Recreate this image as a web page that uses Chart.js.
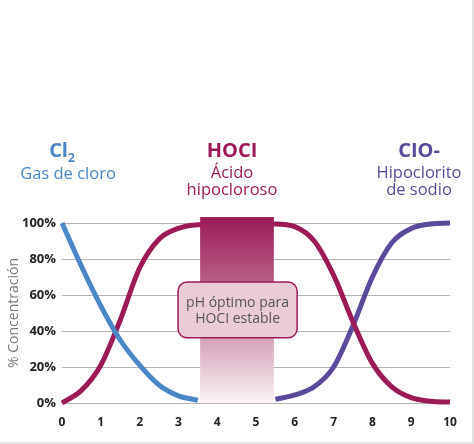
<!DOCTYPE html>
<html lang="es">
<head>
<meta charset="UTF-8">
<title>Concentración según pH</title>
<script src="https://cdn.jsdelivr.net/npm/chart.js"></script>
<style>
  html, body { margin: 0; padding: 0; background: #fff; }
  #wrap { position: relative; width: 472px; height: 442px; border-right: 2px solid #e2e2e2; border-bottom: 2px solid #e2e2e2; font-family: "Open Sans", sans-serif; }
  #wrap canvas { position: absolute; left: 0; top: 0; }
  .head { position: absolute; width: 140px; text-align: center; }
  .head b { display: block; font-size: 20px; line-height: 22px; font-weight: 700; }
  .head span { display: block; font-size: 16.5px; line-height: 16.5px; }
  .head sub { font-size: 12px; vertical-align: -5px; line-height: 0; }
</style>
</head>
<body>
<div id="wrap">
  <canvas id="chart" width="472" height="442"></canvas>
  <div class="head" style="left:-2px; top:139px; color:#4a87c6;"><b style="padding-right:12px">Cl<sub>2</sub></b><span style="margin-top:4px">Gas de cloro</span></div>
  <div class="head" style="left:162px; top:139px; color:#9b1a57;"><b>HOCI</b><span style="margin-top:3px">Ácido</span><span>hipocloroso</span></div>
  <div class="head" style="left:349px; top:139px; color:#5b4a9c;"><b>CIO-</b><span style="margin-top:3px">Hipoclorito</span><span>de sodio</span></div>
</div>
<script>
  // Valores (pH -> % concentración)
  const cl2Ph  = [0, 0.5, 1, 1.5, 2, 2.5, 3, 3.5];
  const cl2Pct = [100, 76, 54, 35, 21, 10, 4, 1.5];

  const hoclPh  = [0, 0.5, 1, 1.5, 2, 2.5, 3, 3.5, 4.5, 5.5, 6, 6.5, 7, 7.5, 8, 8.5, 9, 9.5, 10];
  const hoclPct = [0, 7, 21, 46, 75, 91, 97, 99, 99.5, 99.5, 98, 90, 71, 45, 22, 9, 3, 1, 0.5];

  const cloPh  = [5.5, 6, 6.5, 7, 7.5, 8, 8.5, 9, 9.5, 10];
  const cloPct = [2, 4.5, 9, 20, 43, 70, 89, 97, 99.5, 100];

  // Zona de pH óptimo
  const bandPh = [3.56, 5.46];
  const bandTopPct = 103.3;
  const notePh = [2.99, 6.06];
  const notePct = [36.2, 67.2];
  const noteLines = ['pH óptimo para', 'HOCI estable'];

  const yTicks = [0, 20, 40, 60, 80, 100];

  function pts(xs, ys) {
    return xs.map(function (x, i) { return { x: x, y: ys[i] }; });
  }

  const bandPlugin = {
    id: 'band',
    afterDatasetsDraw: function (chart) {
      const ctx = chart.ctx;
      const xs = chart.scales.x, ys = chart.scales.y;
      // barra degradada
      const x0 = xs.getPixelForValue(bandPh[0]), x1 = xs.getPixelForValue(bandPh[1]);
      const yTop = ys.getPixelForValue(bandTopPct), yBot = ys.getPixelForValue(0);
      const grad = ctx.createLinearGradient(0, yTop, 0, yBot);
      grad.addColorStop(0, '#9b1a57');
      grad.addColorStop(0.5, '#c57e9c');
      grad.addColorStop(1, '#fbf3f6');
      ctx.save();
      ctx.fillStyle = grad;
      ctx.fillRect(x0, yTop, x1 - x0, yBot - yTop);
      // recuadro
      const bx0 = xs.getPixelForValue(notePh[0]), bx1 = xs.getPixelForValue(notePh[1]);
      const by0 = ys.getPixelForValue(notePct[1]), by1 = ys.getPixelForValue(notePct[0]);
      ctx.beginPath();
      ctx.roundRect(bx0, by0, bx1 - bx0, by1 - by0, 9);
      ctx.fillStyle = '#ebcbd6';
      ctx.fill();
      ctx.lineWidth = 1.5;
      ctx.strokeStyle = '#9b1a57';
      ctx.stroke();
      ctx.fillStyle = '#555';
      ctx.font = '14px "Open Sans", sans-serif';
      ctx.textAlign = 'center';
      ctx.textBaseline = 'middle';
      const cx = (bx0 + bx1) / 2, cy = (by0 + by1) / 2;
      ctx.fillText(noteLines[0], cx, cy - 7);
      ctx.fillText(noteLines[1], cx, cy + 9);
      ctx.restore();
    }
  };

  const lineStyle = { borderWidth: 5, pointRadius: 0, fill: false, cubicInterpolationMode: 'monotone', clip: false };

  new Chart(document.getElementById('chart').getContext('2d'), {
    type: 'line',
    data: {
      datasets: [
        Object.assign({ label: 'Cl2', data: pts(cl2Ph, cl2Pct), borderColor: '#4a87c6' }, lineStyle),
        Object.assign({ label: 'HOCI', data: pts(hoclPh, hoclPct), borderColor: '#9b1a57' }, lineStyle),
        Object.assign({ label: 'CIO-', data: pts(cloPh, cloPct), borderColor: '#5b4a9c' }, lineStyle)
      ]
    },
    options: {
      responsive: false,
      animation: false,
      layout: { padding: { top: 223, right: 22, left: 0, bottom: 0 } },
      plugins: { legend: { display: false }, tooltip: { enabled: false } },
      scales: {
        x: {
          type: 'linear', min: 0, max: 10,
          grid: { display: false },
          border: { display: false },
          ticks: { stepSize: 1, color: '#222', padding: 4, font: { family: 'Open Sans', size: 12, weight: 'bold' } },
          afterFit: function (s) { s.height = 39; }
        },
        y: {
          min: 0, max: 100,
          afterBuildTicks: function (s) { s.ticks = yTicks.map(function (v) { return { value: v }; }); },
          grid: { color: '#b4b4b4', lineWidth: 1, drawTicks: false },
          border: { display: false },
          ticks: { color: '#222', padding: 6, font: { family: 'Open Sans', size: 13, weight: 'bold' }, callback: function (v) { return v + '%'; } },
          title: { display: true, text: '% Concentración', color: '#777', padding: { top: 6, bottom: 2 }, font: { family: 'Open Sans', size: 14 } },
          afterFit: function (s) { s.width = 62; }
        }
      }
    },
    plugins: [bandPlugin]
  });
</script>
</body>
</html>
